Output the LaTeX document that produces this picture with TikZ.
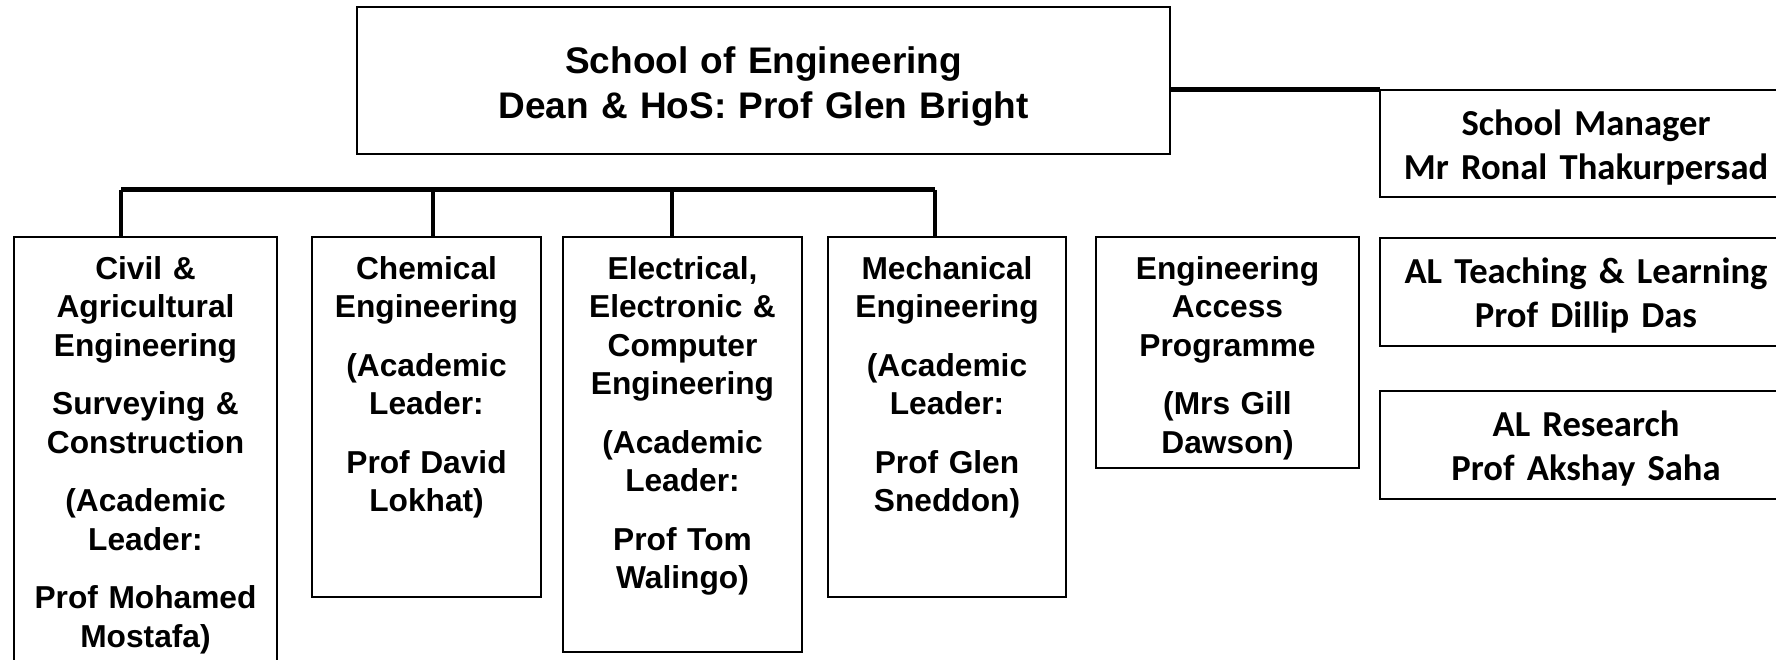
\documentclass[tikz,border=0pt]{standalone}
\usepackage{fontspec}
\newfontfamily\arialfam{Liberation Sans}
\newfontfamily\calibrifam{Carlito}
\usetikzlibrary{positioning}
\begin{document}
\begin{tikzpicture}[x=1pt, y=-1pt,
    box/.style={draw, line width=2pt, align=center, inner sep=0pt, outer sep=0pt},
    dean/.style={box, text width=813pt, text height=66.2pt, text depth=80.8pt,
        font=\arialfam\bfseries\fontsize{37}{45}\selectfont},
    unit/.style={box, text height=42.4pt, text depth=#1,
        font=\arialfam\bfseries\fontsize{31.7}{38.5}\selectfont},
    side/.style={box, text width=412pt, text height=45.8pt, text depth=#1,
        font=\calibrifam\bfseries\fontsize{36.6}{44}\selectfont},
    bus/.style={line width=5pt},
    drop/.style={line width=3.5pt}]
    \useasboundingbox (0,0) rectangle (1776,660);
    \clip (0,0) rectangle (1776,660);
    \node (dean) [dean, anchor=north] at (763.5,7) {School of Engineering\\Dean \& HoS: Prof Glen Bright};
    \node (civil) [unit=420pt, text width=263pt, anchor=north west] at (14,237) {Civil \&\\Agricultural\\Engineering\\[20pt]Surveying \&\\Construction\\[20pt](Academic\\Leader:\\[20pt]Prof Mohamed\\Mostafa)};
    \node (chem) [unit=317.6pt, text width=229pt, right=35pt of civil.north east, anchor=north west] {Chemical\\Engineering\\[20pt](Academic\\Leader:\\[20pt]Prof David\\Lokhat)};
    \node (elec) [unit=372.6pt, text width=239pt, right=22pt of chem.north east, anchor=north west] {Electrical,\\Electronic \&\\Computer\\Engineering\\[20pt](Academic\\Leader:\\[20pt]Prof Tom\\Walingo)};
    \node (mech) [unit=317.6pt, text width=238pt, right=26pt of elec.north east, anchor=north west] {Mechanical\\Engineering\\[20pt](Academic\\Leader:\\[20pt]Prof Glen\\Sneddon)};
    \node (access) [unit=188.6pt, text width=263pt, right=30pt of mech.north east, anchor=north west] {Engineering\\Access\\Programme\\[20pt](Mrs Gill\\Dawson)};
    \node (mgr) [side=61.2pt, anchor=north west] at (1380,90) {School Manager\\Mr Ronal Thakurpersad};
    \node (teach) [side=62.2pt, below=41pt of mgr.south west, anchor=north west] {AL Teaching \& Learning\\Prof Dillip Das};
    \node (research) [side=62.2pt, below=45pt of teach.south west, anchor=north west] {AL Research\\Prof Akshay Saha};

    \coordinate (t1) at (121,190);
    \coordinate (t2) at (433,190);
    \coordinate (t3) at (672,190);
    \coordinate (t4) at (935,190);
    \draw[bus] (t1) -- (t4);
    \draw[drop] (t1) -- (t1 |- civil.north);
    \draw[drop] (t2) -- (t2 |- chem.north);
    \draw[drop] (t3) -- (t3 |- elec.north);
    \draw[drop] (t4) -- (t4 |- mech.north);
    \draw[bus] (dean.east |- mgr.north west) -- (mgr.north west);
\end{tikzpicture}
\end{document}
